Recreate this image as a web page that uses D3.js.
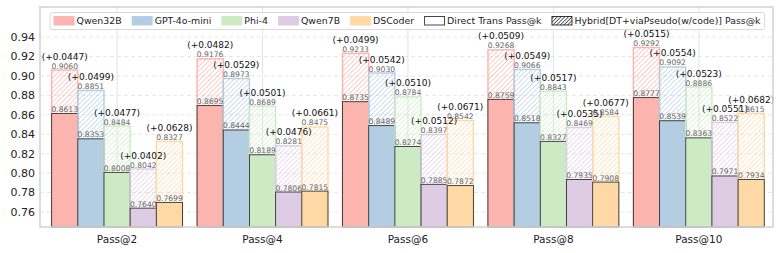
<!DOCTYPE html>
<html>
<head>
<meta charset="utf-8">
<script src="https://cdn.jsdelivr.net/npm/d3@7"></script>
<style>
  body { margin: 0; background: #fff; }
  text { font-family: "DejaVu Sans", sans-serif; }
</style>
</head>
<body>
<svg id="chart"></svg>
<script>
var categories = ["Pass@2", "Pass@4", "Pass@6", "Pass@8", "Pass@10"];
var models = ["Qwen32B", "GPT-4o-mini", "Phi-4", "Qwen7B", "DSCoder"];
var colors = ["#fbb4ae", "#b3cde3", "#ccebc5", "#decbe4", "#fed9a6"];

// direct trans pass@k
var directQwen32B = [0.8613, 0.8695, 0.8735, 0.8759, 0.8777];
var directGPT4oMini = [0.8353, 0.8444, 0.8489, 0.8518, 0.8539];
var directPhi4 = [0.8008, 0.8189, 0.8274, 0.8327, 0.8363];
var directQwen7B = [0.7640, 0.7806, 0.7885, 0.7935, 0.7971];
var directDSCoder = [0.7699, 0.7815, 0.7872, 0.7908, 0.7934];

// hybrid pass@k
var hybridQwen32B = [0.9060, 0.9176, 0.9233, 0.9268, 0.9292];
var hybridGPT4oMini = [0.8851, 0.8973, 0.9030, 0.9066, 0.9092];
var hybridPhi4 = [0.8484, 0.8689, 0.8784, 0.8843, 0.8886];
var hybridQwen7B = [0.8042, 0.8281, 0.8397, 0.8469, 0.8522];
var hybridDSCoder = [0.8327, 0.8475, 0.8542, 0.8584, 0.8615];

// gains as printed
var gainQwen32B = [0.0447, 0.0482, 0.0499, 0.0509, 0.0515];
var gainGPT4oMini = [0.0499, 0.0529, 0.0542, 0.0549, 0.0554];
var gainPhi4 = [0.0477, 0.0501, 0.0510, 0.0517, 0.0523];
var gainQwen7B = [0.0402, 0.0476, 0.0512, 0.0535, 0.0551];
var gainDSCoder = [0.0628, 0.0661, 0.0671, 0.0677, 0.0682];

var yTicks = [0.76, 0.78, 0.80, 0.82, 0.84, 0.86, 0.88, 0.90, 0.92, 0.94];

var directAll = [directQwen32B, directGPT4oMini, directPhi4, directQwen7B, directDSCoder];
var hybridAll = [hybridQwen32B, hybridGPT4oMini, hybridPhi4, hybridQwen7B, hybridDSCoder];
var gainAll = [gainQwen32B, gainGPT4oMini, gainPhi4, gainQwen7B, gainDSCoder];

var width = 782, height = 253;
var padL = 40, padR = 773, padT = 7, padB = 227;
var barW = 0.18;

var svg = d3.select("#chart").attr("width", width).attr("height", height);

var x = d3.scaleLinear().domain([-0.53, 4.51]).range([padL, padR]);
var y = d3.scaleLinear().domain([0.7446, 0.9709]).range([padB, padT]);

// hatch patterns
var defs = svg.append("defs");
function hatch(id, col, sw, sp) {
  var p = defs.append("pattern")
    .attr("id", id)
    .attr("patternUnits", "userSpaceOnUse")
    .attr("width", sp).attr("height", sp)
    .attr("patternTransform", "rotate(45)");
  p.append("line")
    .attr("x1", 0).attr("y1", 0).attr("x2", 0).attr("y2", sp)
    .attr("stroke", col).attr("stroke-width", sw);
}
colors.forEach(function (c, i) { hatch("h" + i, c, 1.3, 3.4); });
hatch("hleg", "#111", 1.3, 2.6);

// grid
var g = svg.append("g");
g.selectAll(".hg").data(yTicks).enter().append("line")
  .attr("x1", padL).attr("x2", padR)
  .attr("y1", function (d) { return y(d); }).attr("y2", function (d) { return y(d); })
  .attr("stroke", "#e0e0e0").attr("stroke-width", 0.8).attr("stroke-dasharray", "4,3");
g.selectAll(".vg").data(categories).enter().append("line")
  .attr("x1", function (d, i) { return x(i); }).attr("x2", function (d, i) { return x(i); })
  .attr("y1", padT).attr("y2", padB)
  .attr("stroke", "#dcdcdc").attr("stroke-width", 0.8);

// bars
var bars = svg.append("g");
models.forEach(function (m, j) {
  var off = (j - 2) * barW;
  categories.forEach(function (c, i) {
    var x0 = x(i + off - barW / 2), x1 = x(i + off + barW / 2);
    var hv = hybridAll[j][i], dv = directAll[j][i];
    bars.append("rect")
      .attr("x", x0).attr("width", x1 - x0)
      .attr("y", y(hv)).attr("height", padB - y(hv))
      .attr("fill", "url(#h" + j + ")")
      .attr("stroke", colors[j]).attr("stroke-width", 1.4);
    bars.append("rect")
      .attr("x", x0).attr("width", x1 - x0)
      .attr("y", y(dv)).attr("height", padB - y(dv))
      .attr("fill", colors[j])
      .attr("stroke", "#333").attr("stroke-width", 0.9);
  });
});

// labels
var labels = svg.append("g");
models.forEach(function (m, j) {
  var off = (j - 2) * barW;
  categories.forEach(function (c, i) {
    var cx = x(i + off);
    var hv = hybridAll[j][i], dv = directAll[j][i];
    labels.append("text")
      .attr("x", cx).attr("y", y(dv) - 1.5)
      .attr("text-anchor", "middle").attr("font-size", 7.6)
      .attr("fill", "#666").text(dv.toFixed(4));
    labels.append("text")
      .attr("x", cx).attr("y", y(hv) - 1.5)
      .attr("text-anchor", "middle").attr("font-size", 7.6)
      .attr("fill", "#666").text(hv.toFixed(4));
    labels.append("text")
      .attr("x", cx).attr("y", y(hv) - 10.5)
      .attr("text-anchor", "middle").attr("font-size", 9)
      .attr("fill", "#111").text("(+" + gainAll[j][i].toFixed(4) + ")");
  });
});

// frame
svg.append("rect")
  .attr("x", padL).attr("y", padT)
  .attr("width", padR - padL).attr("height", padB - padT)
  .attr("fill", "none").attr("stroke", "#d4d4d4").attr("stroke-width", 1.6);

// axes text
svg.selectAll(".yt").data(yTicks).enter().append("text")
  .attr("x", padL - 5).attr("y", function (d) { return y(d); })
  .attr("dy", "0.35em").attr("text-anchor", "end")
  .attr("font-size", 11).attr("fill", "#222")
  .text(function (d) { return d.toFixed(2); });
svg.selectAll(".xt").data(categories).enter().append("text")
  .attr("x", function (d, i) { return x(i); }).attr("y", padB + 16)
  .attr("text-anchor", "middle")
  .attr("font-size", 10.5).attr("fill", "#222")
  .text(function (d) { return d; });

// legend
var legItems = models.map(function (m, j) {
  return { label: m, fill: colors[j], stroke: colors[j] };
});
legItems.push({ label: "Direct Trans Pass@k", fill: "#fff", stroke: "#333" });
legItems.push({ label: "Hybrid[DT+viaPseudo(w/code)] Pass@k", fill: "url(#hleg)", stroke: "#222" });

var leg = svg.append("g");
var legBox = leg.append("rect")
  .attr("x", 50).attr("y", 12.5).attr("height", 17)
  .attr("rx", 2).attr("fill", "#fff").attr("fill-opacity", 0.85)
  .attr("stroke", "#d0d0d0").attr("stroke-width", 0.8);
var lx = 54;
legItems.forEach(function (it) {
  leg.append("rect")
    .attr("x", lx).attr("y", 16.5).attr("width", 20).attr("height", 8.5)
    .attr("fill", it.fill).attr("stroke", it.stroke).attr("stroke-width", 0.9);
  var t = leg.append("text")
    .attr("x", lx + 22.5).attr("y", 24.3)
    .attr("font-size", 9.4).attr("fill", "#222").text(it.label);
  lx += 22.5 + t.node().getComputedTextLength() + 10.5;
});
legBox.attr("width", lx - 10.5 + 4 - 50);
</script>
</body>
</html>
